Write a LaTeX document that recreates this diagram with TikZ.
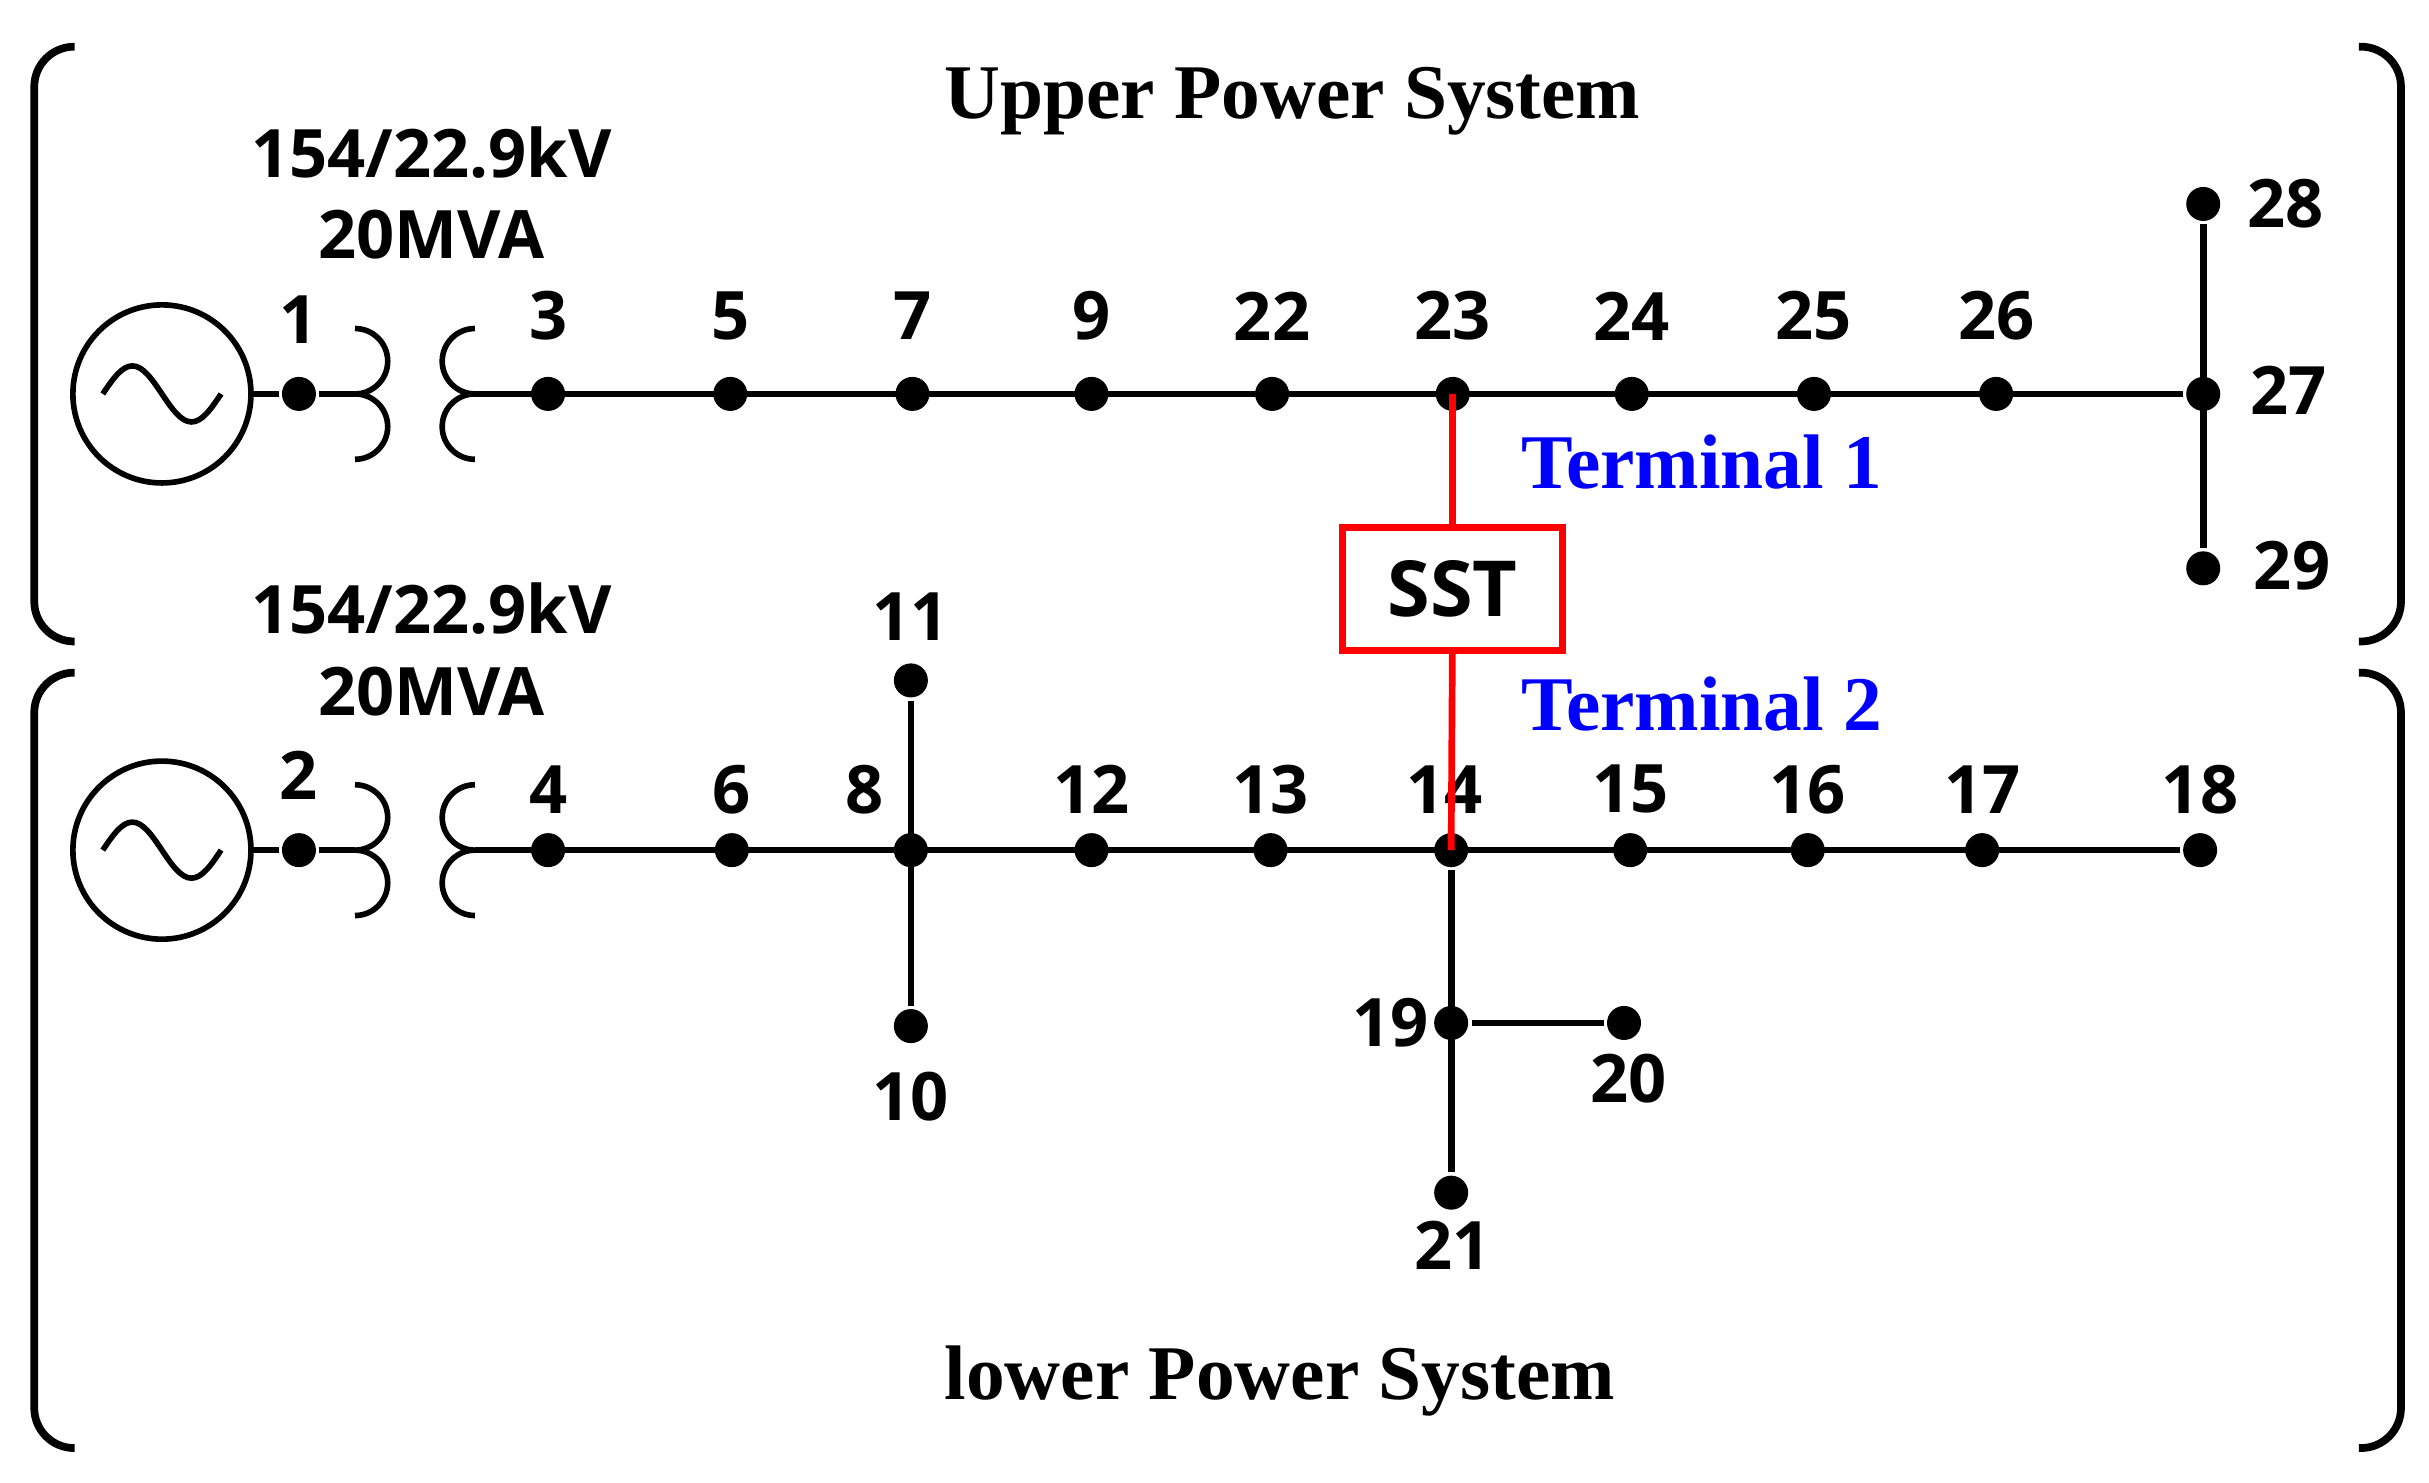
\documentclass[tikz,border=0pt]{standalone}
\usepackage{fontspec}
\setmainfont{Open Sans}
\newfontfamily\serifb{Liberation Serif}
\usetikzlibrary{calc}
\begin{document}
\begin{tikzpicture}[x=0.01557cm,y=-0.01557cm,line width=1.9pt,
    bus/.style={circle,fill=black,inner sep=0,minimum size=0.34cm},
    num/.style={font=\fontsize{19}{22}\selectfont\bfseries},
    ttl/.style={font=\fontsize{22}{26}\selectfont\serifb\bfseries},
    term/.style={font=\fontsize{22}{26}\selectfont\serifb\bfseries,text=blue},
    brk/.style={line width=2.2pt,rounded corners=0.4cm}]
\useasboundingbox (0,0) rectangle (1560,952);

%the brackets
    \draw[brk] (48,30) -- (22,30) -- (22,412) -- (48,412);
    \draw[brk] (1515,30) -- (1542,30) -- (1542,412) -- (1515,412);
    \draw[brk] (48,432) -- (22,432) -- (22,930) -- (48,930);
    \draw[brk] (1515,432) -- (1542,432) -- (1542,930) -- (1515,930);
    \node[ttl] (up) at (830,65) {Upper Power System};
    \node[ttl] (lo) at (822,887) {lower Power System};

%the sources and transformers
\foreach \y/\n/\lab in {253/1/up,546/2/lo}{
    \node[circle,draw,minimum size=1.78cm,line width=1.6pt] (g\n) at (104,\y) {};
    \draw[line width=1.6pt] ($(g\n)+(-38,0)$) sin ($(g\n)+(-19,-18)$) cos ($(g\n)+(0,0)$) sin ($(g\n)+(19,18)$) cos ($(g\n)+(38,0)$);
    \node[bus] (b\n) at (192,\y) {};
    \draw (g\n) ++(57,0) -- (b\n) -- (228,\y);
    \draw[line width=1.6pt] (228,\y+42) arc (90:-90:21) arc (90:-90:21);
    \draw[line width=1.6pt] (305,\y+42) arc (90:270:21) arc (90:270:21);
    \node[num] (n\n) at (192,\y-48) {\n};
    \node[num] (kv\n) at (277,\y-155) {154/22.9kV};
    \node[num] (mva\n) at (277,\y-102) {20MVA};
}

%upper feeder
\foreach \x/\n in {352/3,469/5,586/7,701/9,817/22,933/23,1048/24,1165/25,1282/26}{
    \node[bus] (b\n) at (\x,253) {};
    \node[num] at (\x,203) {\n};
}
    \node[bus] (b27) at (1415,253) {};
    \node[bus] (b28) at (1415,131) {};
    \node[bus] (b29) at (1415,365) {};
    \node[num] at (1468,131) {28};
    \node[num] at (1470,251) {27};
    \node[num] at (1472,363) {29};
    \draw (305,253) -- (b27);
    \draw (b28) -- (b29);

%lower feeder
\foreach \x/\n in {352/4,470/6,701/12,816/13,1047/15,1161/16,1273/17,1413/18}{
    \node[bus] (b\n) at (\x,546) {};
    \node[num] at (\x,507) {\n};
}
    \node[bus] (b8) at (585,546) {};
    \node[bus] (b14) at (932,546) {};
    \node[num] at (555,507) {8};
    \node[num] at (928,507) {14};
    \draw (305,546) -- (b18);
    \node[bus] (b11) at (585,437) {};
    \node[bus] (b10) at (585,659) {};
    \node[num] at (585,396) {11};
    \node[num] at (585,704) {10};
    \draw (b11) -- (b10);
    \node[bus] (b19) at (932,657) {};
    \node[bus] (b20) at (1043,657) {};
    \node[bus] (b21) at (932,766) {};
    \node[num] at (893,657) {19};
    \node[num] at (1046,693) {20};
    \node[num] at (933,800) {21};
    \draw (b14) -- (b21);
    \draw (b19) -- (b20);

%the SST
    \node[draw=red,line width=2pt,minimum width=2.2cm,minimum height=1.23cm,font=\fontsize{22}{26}\selectfont\bfseries] (sst) at (933,378) {SST};
    \draw[red] (b23.center) -- (sst);
    \draw[red] (sst) -- (b14.center);
    \node[term] (t1) at (1093,297) {Terminal 1};
    \node[term] (t2) at (1093,452) {Terminal 2};
\end{tikzpicture}
\end{document}
